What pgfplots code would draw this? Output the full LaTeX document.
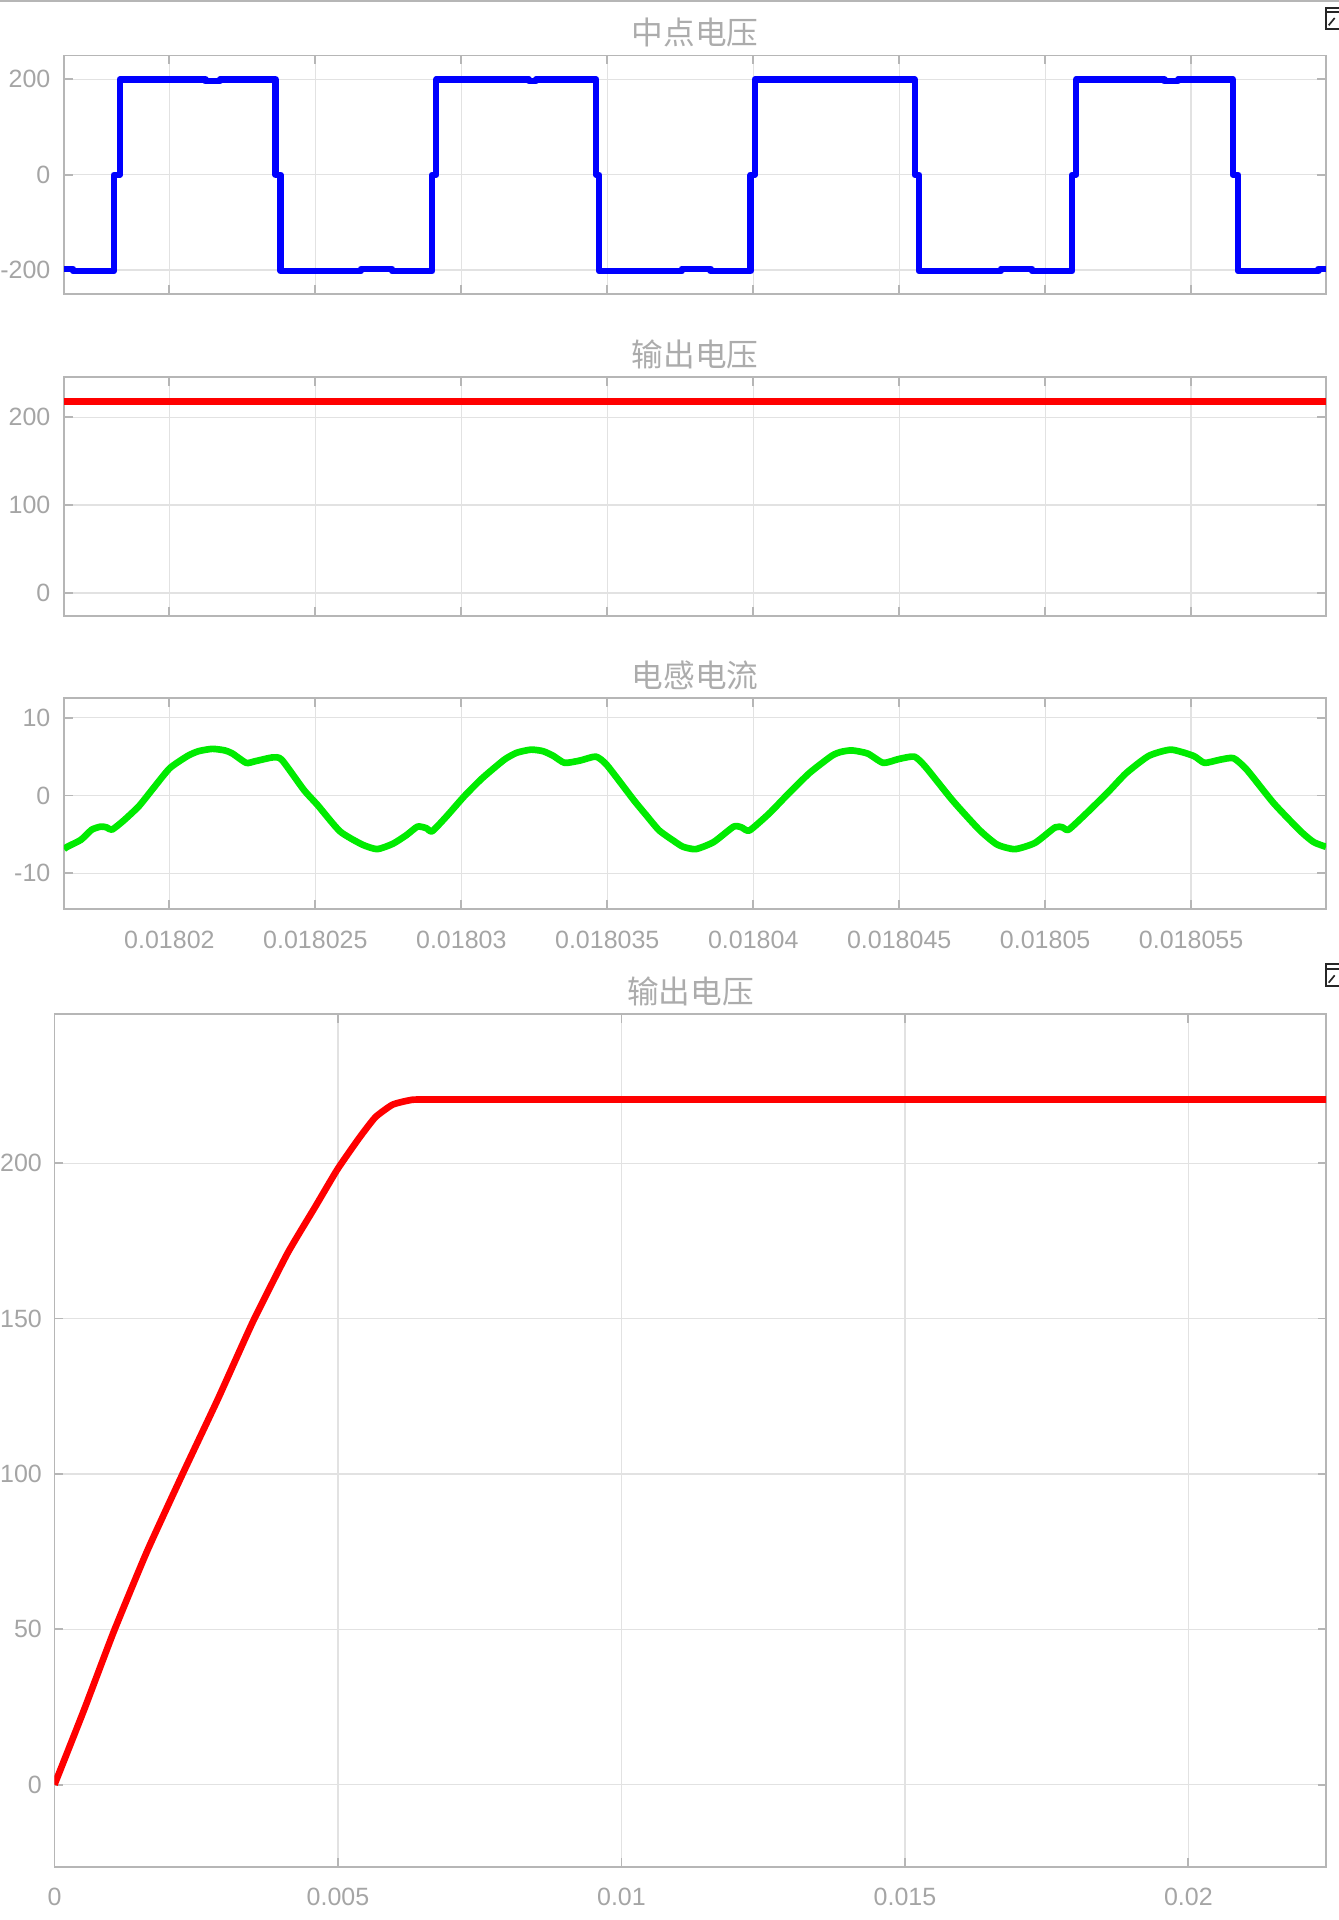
\documentclass[border=0pt]{standalone}
\usepackage{pgfplots}
\pgfplotsset{compat=1.18}
\usepackage{fontspec}
\setmainfont{Liberation Sans}
\newfontfamily\cjk{Noto Sans CJK SC}
\definecolor{tickgray}{RGB}{165,165,165}
\definecolor{axgray}{RGB}{182,182,182}
\definecolor{gridgray}{RGB}{226,226,226}
\definecolor{titlegray}{RGB}{172,172,172}
\definecolor{mblue}{RGB}{0,0,255}
\definecolor{mred}{RGB}{255,0,0}
\definecolor{mgreen}{RGB}{0,235,0}

\pgfplotsset{scopestyle/.style={
  scale only axis,
  anchor=north west,
  axis line style={axgray, line width=0.55pt},
  grid=major, major grid style={gridgray, line width=0.4pt},
  tick style={axgray, line width=0.55pt}, major tick length=2.6pt,
  tick align=inside,
  tick label style={font=\fontsize{7.5}{8}\selectfont, text=tickgray},
  yticklabel style={anchor=east, inner sep=0pt, xshift=-3.9pt},
  xticklabel style={anchor=center, inner sep=0pt, yshift=-9.3pt},
  title style={font=\cjk\fontsize{9.5}{10}\selectfont, text=titlegray, at={(0.5,1)}, anchor=center, yshift=1pt, inner sep=0pt},
}}
\pgfplotsset{zoomx/.style={
  scopestyle, width=378.6pt,
  xmin=16.39, xmax=59.62, xtick={20,25,30,35,40,45,50,55},
}}

\begin{document}
\begin{tikzpicture}
\path[use as bounding box] (0,0) rectangle (401.7pt,-576pt);
\draw[axgray, line width=0.6pt] (0,-0.3pt) -- (401.7pt,-0.3pt);
% window icons
\draw[black!85, line width=0.7pt] (397.7pt,-2.3pt) rectangle (403pt,-8.6pt);
\draw[black!85, line width=0.6pt] (397.7pt,-3.7pt) -- (403pt,-3.7pt);
\draw[black!85, line width=0.5pt] (398.6pt,-7.6pt) -- (400.4pt,-5.4pt);
\draw[black!85, line width=0.7pt] (397.7pt,-289.2pt) rectangle (403pt,-295.8pt);
\draw[black!85, line width=0.6pt] (397.7pt,-290.6pt) -- (403pt,-290.6pt);
\draw[black!85, line width=0.5pt] (398.6pt,-294.8pt) -- (400.4pt,-292.6pt);

% ---------- plot 1: 中点电压 ----------
\begin{axis}[zoomx, at={(19.2pt,-16.65pt)}, height=71.55pt,
  ymin=-250, ymax=250, ytick={-200,0,200}, yticklabels={-200,0,200},
  xticklabels={}, title={中点电压}]
\addplot[mblue, line width=1.9pt, line join=round] coordinates {
(16.39,-197) (16.70,-197) (16.70,-202) (18.10,-202) (18.10,0) (18.30,0)
(18.30,200) (21.24,200) (21.24,196) (21.73,196) (21.73,200) (23.64,200)
(23.64,0) (23.81,0) (23.81,-202) (26.56,-202) (26.56,-197) (27.63,-197)
(27.63,-202) (29.00,-202) (29.00,0) (29.14,0) (29.14,200) (32.32,200)
(32.32,196) (32.55,196) (32.55,200) (34.62,200) (34.62,0) (34.72,0)
(34.72,-202) (37.55,-202) (37.55,-197) (38.54,-197) (38.54,-202) (39.91,-202)
(39.91,0) (40.05,0) (40.05,200) (45.53,200) (45.53,0) (45.68,0)
(45.68,-202) (48.48,-202) (48.48,-197) (49.55,-197) (49.55,-202) (50.92,-202)
(50.92,0) (51.06,0) (51.06,200) (54.09,200) (54.09,196) (54.55,196)
(54.55,200) (56.43,200) (56.43,0) (56.61,0) (56.61,-202) (59.36,-202)
(59.36,-197) (59.62,-197)
};
\end{axis}

% ---------- plot 2: 输出电压 (zoom) ----------
\begin{axis}[zoomx, at={(19.2pt,-113.19pt)}, height=71.52pt,
  ymin=-25.9, ymax=245.6, ytick={0,100,200}, yticklabels={0,100,200},
  xticklabels={}, title={输出电压}]
\addplot[mred, line width=2pt] coordinates {(16.39,218) (59.62,218)};
\end{axis}

% ---------- plot 3: 电感电流 ----------
\begin{axis}[zoomx, at={(19.2pt,-209.49pt)}, height=63.21pt,
  ymin=-14.6, ymax=12.5, ytick={-10,0,10}, yticklabels={-10,0,10},
  xticklabels={0.01802,0.018025,0.01803,0.018035,0.01804,0.018045,0.01805,0.018055},
  title={电感电流}]
\addplot[mgreen, line width=2pt, line join=round, smooth, tension=0.35] coordinates {
(16.39,-6.9) (16.5,-6.6) (16.97,-5.7) (17.34,-4.4) (17.65,-4.0) (17.85,-4.1)
(18.03,-4.4) (18.41,-3.3) (18.95,-1.4) (19.40,0.7) (20.01,3.5) (20.63,5.1)
(21.0,5.7) (21.47,6.0) (21.9,5.8) (22.16,5.4) (22.63,4.2) (22.93,4.4)
(23.54,4.9) (23.85,4.6) (24.61,0.7) (25.07,-1.2) (25.84,-4.6) (26.60,-6.3)
(27.12,-6.9) (27.66,-6.2) (28.12,-5.1) (28.50,-4.0) (28.80,-4.2) (29.00,-4.6)
(29.49,-2.7) (30.10,-0.1) (30.71,2.2) (31.47,4.6) (31.9,5.5) (32.39,5.9)
(32.8,5.7) (33.15,5.1) (33.54,4.2) (34.07,4.5) (34.61,5.0) (34.99,3.9)
(35.91,-0.6) (36.35,-2.6) (36.78,-4.5) (37.34,-6.0) (37.6,-6.6) (38.03,-6.9)
(38.64,-6.0) (39.33,-4.0) (39.6,-4.1) (39.87,-4.5) (40.55,-2.3) (41.17,0.1)
(41.93,2.9) (42.69,5.1) (43.0,5.6) (43.38,5.8) (43.92,5.4) (44.45,4.2)
(44.99,4.7) (45.52,5.0) (45.90,3.7) (46.82,-0.6) (47.74,-4.4) (48.35,-6.3)
(48.96,-6.9) (49.65,-6.1) (50.34,-4.1) (50.6,-4.1) (50.80,-4.4) (51.41,-2.3)
(52.17,0.5) (52.78,2.9) (53.55,5.1) (54.31,5.9) (55.08,5.1) (55.46,4.2)
(55.99,4.6) (56.45,4.8) (56.91,3.3) (57.83,-1.0) (58.75,-4.6) (59.20,-6.0)
(59.62,-6.6)
};
\end{axis}

% ---------- plot 4: 输出电压 (full run) ----------
\begin{axis}[scopestyle, at={(16.35pt,-304.2pt)}, width=381.5pt, height=255.9pt,
  xmin=0, xmax=0.02243, ymin=-26.5, ymax=248,
  xtick={0,0.005,0.01,0.015,0.02}, xticklabels={0,0.005,0.01,0.015,0.02},
  ytick={0,50,100,150,200}, yticklabels={0,50,100,150,200},
  yticklabel style={xshift=0.3pt},
  xticklabel style={yshift=0.4pt},
  title={输出电压}, title style={yshift=-0.3pt}]
\addplot[mred, line width=2pt, line join=round, smooth, tension=0.3] coordinates {
(0,0) (0.00052,24) (0.00104,49) (0.00163,75) (0.00226,100) (0.00288,124)
(0.0035,149) (0.00411,171) (0.0046,186) (0.00499,198) (0.00537,208)
(0.00566,214.8) (0.00596,218.8) (0.00625,220.2) (0.0065,220.5) (0.009,220.5)
(0.02243,220.5)
};
\end{axis}
\end{tikzpicture}
\end{document}
